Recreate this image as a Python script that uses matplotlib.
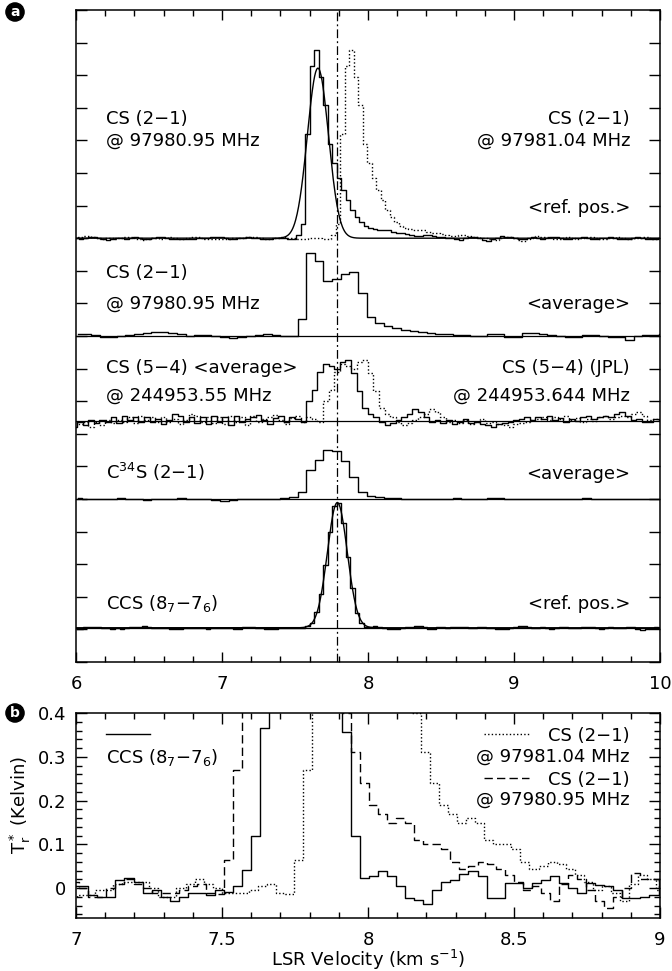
import numpy as np
import matplotlib.pyplot as plt
from matplotlib.ticker import MultipleLocator, FuncFormatter

plt.rcParams['font.family'] = ['DejaVu Sans']
plt.rcParams['font.size'] = 13
plt.rcParams['mathtext.default'] = 'regular'

# CS (2-1) @ 97980.95 MHz, reference position (Kelvin), channel grid v0 + i*dv
cs21_v0 = 5.7555
cs21_dv = 0.031
cs21_T = [0.0, 0.02, 0.04, 0.05, 0.03, 0.0, -0.01, 0.01,
          0.01, -0.01, 0.0, 0.02, 0.03, 0.01, -0.02, -0.03, -0.01, 0.01, 0.0, -0.02,
          0.0, 0.02, 0.01, -0.01, -0.02, 0.0, 0.03, 0.02, 0.0, -0.01, -0.02, -0.01,
          -0.02, -0.015, -0.015, -0.005, -0.005, 0.01, 0.015, 0.015, 0.015, 0.0, -0.02,
          -0.02, 0.0, 0.01, 0.02, 0.01, 0.0, -0.01, -0.01, -0.01, -0.005, 0.005, 0.01,
          -0.01, -0.013,
          0.065, 0.27, 2.0, 3.3, 3.6, 3.1, 2.55, 1.8, 1.44, 1.15, 0.93, 0.74, 0.55,
          0.40, 0.31, 0.24, 0.19, 0.17, 0.15, 0.16, 0.15, 0.11, 0.10, 0.10, 0.09,
          0.06, 0.045, 0.05, 0.06, 0.055, 0.045, 0.03, 0.015,
          -0.005, 0.005, -0.01, -0.03, 0.01, 0.03, 0.02, -0.005, -0.03, -0.045, -0.02,
          0.0, 0.035, 0.02, 0.02,
          0.0, -0.02, -0.01, 0.01, 0.02, 0.0, -0.01, 0.01, 0.03, 0.02, 0.0, -0.02,
          -0.01, 0.0, 0.01, 0.02, 0.0, -0.01, -0.02, 0.0, 0.01, 0.02, 0.01, -0.01,
          -0.02, -0.01, 0.01, 0.02, 0.0, -0.01, -0.02, -0.01, 0.0]
# same spectrum with the rest frequency 97981.04 MHz (km/s shift)
cs21_shift = 0.24

# CCS (8_7-7_6), reference position (Kelvin)
ccs_v0 = 6.0035
ccs_dv = 0.031
ccs_T = [-0.04, -0.02, 0.02, 0.025, 0.02, 0.01, 0.0, -0.01, -0.02, -0.01, -0.02,
         0.0, 0.01, 0.015, 0.02, 0.04, 0.03, 0.0, -0.01, -0.01, 0.0, -0.02, -0.025,
         -0.02, -0.01, 0.0, 0.005, 0.0, -0.01, -0.02, -0.01, 0.0,
         0.005, 0.005, -0.015, -0.02, -0.02, 0.019, 0.024, 0.015, -0.011, -0.004,
         -0.02, -0.03, -0.02, -0.011, -0.011, -0.015, -0.004, -0.008, 0.004, 0.042,
         0.12, 0.366, 0.80, 1.50, 2.30, 2.92, 3.0, 2.52, 1.70, 0.95, 0.356, 0.12, 0.023,
         0.027, 0.04, 0.027, 0.004, -0.023, -0.027, -0.036, -0.005, 0.015, 0.019,
         0.033, 0.04, 0.027, -0.023, -0.023, 0.011, 0.011, 0.0, 0.011, 0.019, 0.027,
         0.011, 0.0, -0.011, 0.011, 0.008, 0.004, -0.004, -0.023, -0.023, -0.02, -0.015,
         0.02, 0.045, 0.04, 0.01, -0.01, 0.0, 0.01, -0.01, -0.02, 0.0, 0.01, 0.015,
         0.0, -0.01, 0.0, 0.02, 0.03, 0.01, -0.01, -0.02, 0.0, 0.01, 0.0, -0.01, 0.0,
         0.02, 0.03, -0.03, -0.06, -0.03, 0.0, 0.01, 0.0]

# averaged spectra (relative units), coarser channels
avg_v0 = 6.0135
avg_dv = 0.059
cs21_avg = [0.05, 0.07, 0.03, -0.02, -0.03, 0.0, 0.03, 0.05, 0.08, 0.13, 0.12, 0.08,
            0.05, 0.0, 0.02, 0.03, 0.0, -0.03, -0.05, -0.02, 0.0, 0.03, 0.05, 0.02,
            0.0, 0.01,
            0.51, 2.56, 2.31, 1.69, 1.74, 1.89, 1.97, 1.33, 0.59, 0.39, 0.31, 0.24,
            0.18, 0.15, 0.11, 0.08, 0.05, 0.05,
            0.04, 0.02, 0.0, 0.0, 0.05, 0.05, -0.02, -0.03, 0.08, 0.1, 0.06, 0.03,
            0.0, -0.03, -0.02, 0.02, 0.04, 0.0, -0.02, -0.03, -0.13, -0.01, 0.02,
            0.04, 0.05]
c34s_avg = [0.02, 0.01, 0.0, -0.01, 0.0, 0.02, 0.01, 0.0, -0.02, -0.01, 0.0, 0.01,
            0.02, 0.01, 0.0, -0.01, -0.03, -0.06, -0.04, -0.01, 0.0, 0.01, 0.0,
            -0.01, 0.02, 0.05,
            0.2, 0.89, 1.2, 1.5, 1.48, 1.18, 0.66, 0.2, 0.1, 0.05, 0.03,
            0.02, 0.01, 0.0, 0.0, -0.01, 0.0, 0.01, 0.02, 0.0, -0.01, 0.0, 0.02,
            0.03, 0.01, 0.0, -0.01, 0.0, 0.01, 0.0, -0.01, 0.0, 0.01, 0.02, 0.01,
            0.0, -0.01, 0.0, 0.01, 0.0, -0.01, 0.0, 0.01]

# CS (5-4) average @ 244953.55 MHz (relative units)
cs54_v0 = 5.8725
cs54_dv = 0.0383
cs54_avg = [0.0, -0.1, -0.05,
            -0.19, -0.04, -0.14, 0.01, -0.07, 0.03, -0.04, 0.11, -0.07, 0.16, 0.01,
            0.11, -0.04, 0.11, -0.04, 0.06, -0.09, 0.03, 0.21, 0.16, -0.04, 0.11,
            -0.07, 0.11, -0.09, 0.16, -0.04, 0.11, -0.14, 0.16, -0.04, 0.05, 0.12,
            0.18, 0.02, -0.1, 0.08, 0.15, -0.05, 0.12, 0.05, -0.05,
            0.62, 0.95, 1.5, 1.73, 1.67, 1.6, 1.8, 1.85, 1.45, 0.9, 0.4,
            0.21, 0.11, -0.04, -0.14, -0.07, 0.01, 0.11, 0.21, 0.37, 0.27, 0.11,
            -0.04, 0.03, -0.07, 0.01, -0.09, -0.04, 0.06, -0.07, -0.04, -0.09, -0.14,
            -0.19, -0.11, -0.07, -0.04, 0.01, 0.06, 0.11, 0.01, 0.13, 0.06, 0.16,
            0.01, 0.09, -0.04, 0.06, 0.0, 0.1, 0.16, 0.05, 0.11, 0.16, 0.11, 0.21,
            0.27, 0.16, 0.01, 0.06, -0.04, -0.04, 0.05, 0.0]
# JPL rest frequency 244953.644 MHz (km/s shift)
cs54_shift = 0.115

# gaussian fits: amplitude (K), centre (km/s), fwhm (km/s)
cs21_fit = (3.26, 7.657, 0.17)
ccs_fit = (3.0, 7.79, 0.16)
v_sys = 7.79

# stacking of panel a: baseline offsets and K -> plot unit scale
off_cs21, off_avg, off_54, off_c34s, off_ccs = 13.0, 10.0, 7.4, 5.0, 1.05
scale_cs21, scale_ccs = 1.6, 1.28


def grid(v0, dv, vals):
    return v0 + dv * np.arange(len(vals)), np.array(vals)


def gauss(v, p):
    a, c, w = p
    s = w / 2.3548
    return a * np.exp(-0.5 * ((v - c) / s) ** 2)


v_cs, t_cs = grid(cs21_v0, cs21_dv, cs21_T)
v_ccs, t_ccs = grid(ccs_v0, ccs_dv, ccs_T)
v_avg, t_avg = grid(avg_v0, avg_dv, cs21_avg)
v_c34, t_c34 = grid(avg_v0, avg_dv, c34s_avg)
v_54, t_54 = grid(cs54_v0, cs54_dv, cs54_avg)

fig = plt.figure(figsize=(6.72, 9.71), dpi=100)
ax1 = fig.add_axes([76/672, 1-662/971, 584/672, 652/971])
ax2 = fig.add_axes([76/672, 1-918/971, 584/672, 205/971])

lw = 1.0
dotted = (0, (1, 1.6))
dashed = (0, (6, 3))

# panel a
ax1.step(v_cs, off_cs21 + scale_cs21*t_cs, where='mid', color='k', lw=lw)
ax1.step(v_cs + cs21_shift, off_cs21 + scale_cs21*t_cs, where='mid', color='k',
         lw=lw, ls=dotted)
vf = np.linspace(6, 10, 1200)
ax1.plot(vf, off_cs21 + scale_cs21*gauss(vf, cs21_fit), color='k', lw=lw)

ax1.axhline(off_avg, color='k', lw=0.9)
ax1.step(v_avg, off_avg + t_avg, where='mid', color='k', lw=lw)

ax1.axhline(off_54, color='k', lw=0.9)
ax1.step(v_54, off_54 + t_54, where='mid', color='k', lw=lw)
ax1.step(v_54 + cs54_shift, off_54 + t_54, where='mid', color='k', lw=lw, ls=dotted)

ax1.axhline(off_c34s, color='k', lw=0.9)
ax1.step(v_c34, off_c34s + t_c34, where='mid', color='k', lw=lw)

ax1.axhline(off_ccs, color='k', lw=0.9)
ax1.step(v_ccs, off_ccs + scale_ccs*t_ccs, where='mid', color='k', lw=lw)
ax1.plot(vf, off_ccs + scale_ccs*gauss(vf, ccs_fit), color='k', lw=lw)

ax1.axvline(v_sys, color='k', lw=0.9, ls=(0, (7, 2.5, 1.5, 2.5)))

xl, xr = 6.205, 9.795
ax1.text(xl, 16.50, 'CS (2−1)')
ax1.text(xl, 15.84, '@ 97980.95 MHz')
ax1.text(xr, 16.50, 'CS (2−1)', ha='right')
ax1.text(xr, 15.84, '@ 97981.04 MHz', ha='right')
ax1.text(xr, 13.77, '<ref. pos.>', ha='right')
ax1.text(xl, 11.79, 'CS (2−1)')
ax1.text(xl, 10.83, '@ 97980.95 MHz')
ax1.text(xr, 10.83, '<average>', ha='right')
ax1.text(xl, 8.87, 'CS (5−4) <average>')
ax1.text(xl, 8.01, '@ 244953.55 MHz')
ax1.text(xr, 8.87, 'CS (5−4) (JPL)', ha='right')
ax1.text(xr, 8.01, '@ 244953.644 MHz', ha='right')
ax1.text(xl, 5.61, 'C$^{34}$S (2−1)')
ax1.text(xr, 5.61, '<average>', ha='right')
ax1.text(xl, 1.63, 'CCS (8$_7$−7$_6$)')
ax1.text(xr, 1.63, '<ref. pos.>', ha='right')

ax1.set_xlim(6, 10)
ax1.set_ylim(0, 20)
ax1.xaxis.set_major_locator(MultipleLocator(1))
ax1.xaxis.set_minor_locator(MultipleLocator(0.2))
ax1.yaxis.set_major_locator(MultipleLocator(1))
ax1.xaxis.set_major_formatter(FuncFormatter(lambda x, p: '%g' % x))
ax1.tick_params(which='both', direction='in', top=True, right=True, width=1)
ax1.tick_params(which='major', length=7, pad=9)
ax1.tick_params(axis='y', which='major', length=8, labelleft=False)
ax1.tick_params(which='minor', length=4)

# panel b
ax2.step(v_ccs, t_ccs, where='mid', color='k', lw=lw)
ax2.step(v_cs, t_cs, where='mid', color='k', lw=lw, ls=dashed)
ax2.step(v_cs + cs21_shift, t_cs, where='mid', color='k', lw=lw, ls=dotted)

ax2.plot([7.103, 7.253], [0.352, 0.352], color='k', lw=lw)
ax2.text(7.103, 0.285, 'CCS (8$_7$−7$_6$)')
ax2.plot([8.397, 8.551], [0.352, 0.352], color='k', lw=lw, ls=dotted)
ax2.text(8.897, 0.335, 'CS (2−1)', ha='right')
ax2.text(8.897, 0.289, '@ 97981.04 MHz', ha='right')
ax2.plot([8.397, 8.551], [0.251, 0.251], color='k', lw=lw, ls=dashed)
ax2.text(8.897, 0.236, 'CS (2−1)', ha='right')
ax2.text(8.897, 0.190, '@ 97980.95 MHz', ha='right')

ax2.set_xlim(7, 9)
ax2.set_ylim(-0.068, 0.4)
ax2.xaxis.set_major_locator(MultipleLocator(0.5))
ax2.xaxis.set_minor_locator(MultipleLocator(0.1))
ax2.yaxis.set_major_locator(MultipleLocator(0.1))
ax2.yaxis.set_minor_locator(MultipleLocator(0.02))
ax2.xaxis.set_major_formatter(FuncFormatter(lambda x, p: '%g' % round(x, 2)))
ax2.yaxis.set_major_formatter(FuncFormatter(lambda x, p: '%g' % round(x, 2)))
ax2.tick_params(which='both', direction='in', top=True, right=True, width=1)
ax2.tick_params(which='major', length=8)
ax2.tick_params(axis='x', which='major', pad=9)
ax2.tick_params(axis='y', which='major', pad=7)
ax2.tick_params(which='minor', length=4)

for ax in (ax1, ax2):
    for sp in ax.spines.values():
        sp.set_linewidth(1.1)

fig.text(368/672, 1-960/971, 'LSR Velocity (km s$^{-1}$)', ha='center', va='center')
fig.text(20/672, 1-805/971, '$T_r^*$ (Kelvin)', ha='center', va='center', rotation=90)

for lab, ypx in (('a', 12), ('b', 713)):
    fig.text(15/672, 1-ypx/971, lab, ha='center', va='center', color='white',
             fontsize=10, fontweight='bold',
             bbox=dict(boxstyle='circle,pad=0.15', fc='k', ec='k'))

fig.savefig('out.png', dpi=100)
